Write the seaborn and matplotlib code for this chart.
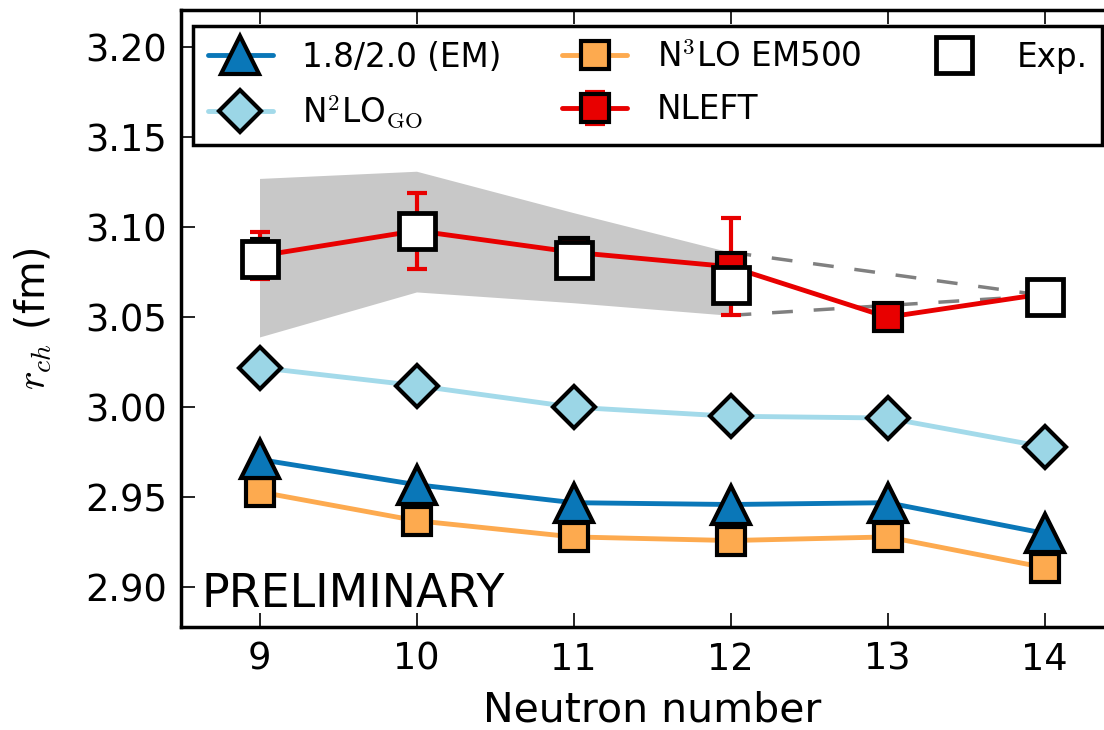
import numpy as np
import matplotlib
matplotlib.use("Agg")
import matplotlib.pyplot as plt
import seaborn as sns

# ── data ──
neutrons = [9, 10, 11, 12, 13, 14]
em_18_20 = [2.971, 2.957, 2.947, 2.946, 2.947, 2.930]
n3lo_em500 = [2.953, 2.937, 2.928, 2.926, 2.928, 2.911]
n2lo_go = [3.022, 3.012, 3.000, 2.995, 2.994, 2.978]
nleft = [3.084, 3.098, 3.086, 3.078, 3.050, 3.063]
nleft_err = [0.013, 0.021, 0.005, 0.027, 0.003, 0.003]

exp_n = [9, 10, 11, 12, 14]
exp_r = [3.0825, 3.098, 3.082, 3.068, 3.061]
exp_err = [0.011, 0.002, 0.006, 0.002, 0.002]

band_n = [9, 10, 11, 12]
band_lo = [3.039, 3.064, 3.058, 3.051]
band_hi = [3.127, 3.131, 3.108, 3.086]
dash_n = [12, 14]
dash_hi = [3.086, 3.062]
dash_lo = [3.051, 3.062]

sns.set_style("ticks")
plt.rcParams['font.family'] = ['DejaVu Sans']
plt.rcParams['mathtext.fontset'] = 'cm'
for k in ('text.color', 'axes.labelcolor', 'xtick.color', 'ytick.color'):
    plt.rcParams[k] = 'black'

fig = plt.figure(figsize=(11.04, 7.30), dpi=100)
ax = fig.add_axes([181 / 1104, 103 / 730, 942 / 1104, 617 / 730])

ms, mew, lw = 20, 3.0, 3.5

# uncertainty band + its dashed continuation
ax.fill_between(band_n, band_lo, band_hi, color='#c8c8c8', lw=0, zorder=1)
ax.plot(dash_n, dash_hi, color='#808080', lw=2.5, dashes=(6, 6), zorder=1.5)
ax.plot(dash_n, dash_lo, color='#808080', lw=2.5, dashes=(6, 6), zorder=1.5)

sns.lineplot(x=neutrons, y=n3lo_em500, ax=ax, color='#fdaa4f', linewidth=lw,
             marker='s', markersize=ms, markeredgecolor='k',
             markeredgewidth=mew, label='N$^3$LO EM500', zorder=3)
sns.lineplot(x=neutrons, y=em_18_20, ax=ax, color='#0a77b8', linewidth=lw,
             marker='^', markersize=ms * 1.35, markeredgecolor='k',
             markeredgewidth=mew, label='1.8/2.0 (EM)', zorder=4)
sns.lineplot(x=neutrons, y=n2lo_go, ax=ax, color='#a3daea', linewidth=lw,
             marker='D', markersize=ms * 1.05, markeredgecolor='k',
             markeredgewidth=mew, markerfacecolor='#9bd6e6',
             label='N$^2$LO$_{\\rm GO}$', zorder=5)

ax.errorbar(neutrons, nleft, yerr=nleft_err, color='#e80000', lw=lw,
            marker='s', ms=ms, mec='k', mew=mew, ecolor='#e80000',
            elinewidth=3, capsize=7.5, capthick=3, label='NLEFT', zorder=6)

ax.errorbar(exp_n, exp_r, yerr=exp_err, fmt='none', ecolor='k',
            elinewidth=3, capsize=7.5, capthick=3, zorder=6.5)
ax.plot(exp_n, exp_r, ls='none', marker='s', ms=ms * 1.3, mfc='w',
        mec='k', mew=mew * 1.15, label='Exp.', zorder=7)

ax.text(8.63, 2.889, 'PRELIMINARY', fontsize=33, ha='left', va='baseline')

ax.set_xlim(8.5, 14.5)
ax.set_ylim(2.878, 3.2205)
ax.set_xticks(neutrons)
ax.set_yticks([2.90, 2.95, 3.00, 3.05, 3.10, 3.15, 3.20])
ax.yaxis.set_major_formatter(matplotlib.ticker.FormatStrFormatter('%.2f'))
ax.tick_params(direction='in', length=10, width=1.2, labelsize=26.5,
               top=True, right=True, pad=10)
for s in ax.spines.values():
    s.set_linewidth(2.5)
    s.set_color('k')

ax.set_xlabel('Neutron number', fontsize=29.5, labelpad=9)
ax.set_ylabel('$r_{ch}$ (fm)', fontsize=28.5, labelpad=22)

handles, labels = ax.get_legend_handles_labels()
order = ['1.8/2.0 (EM)', 'N$^2$LO$_{\\rm GO}$', 'N$^3$LO EM500', 'NLEFT', 'Exp.']
hmap = dict(zip(labels, handles))
leg = ax.legend([hmap[k] for k in order], order, ncol=3, fontsize=23.5,
                loc='upper left', mode='expand', borderaxespad=0,
                bbox_to_anchor=(12 / 942, 0, 909 / 942, 1 - 16 / 617),
                frameon=True, fancybox=False, framealpha=1,
                edgecolor='k', handlelength=2.0, handletextpad=0.9,
                labelspacing=0.6, borderpad=0.45, numpoints=1)
leg.get_frame().set_linewidth(2.5)
leg.set_zorder(10)

plt.savefig('out.png', dpi=100)
